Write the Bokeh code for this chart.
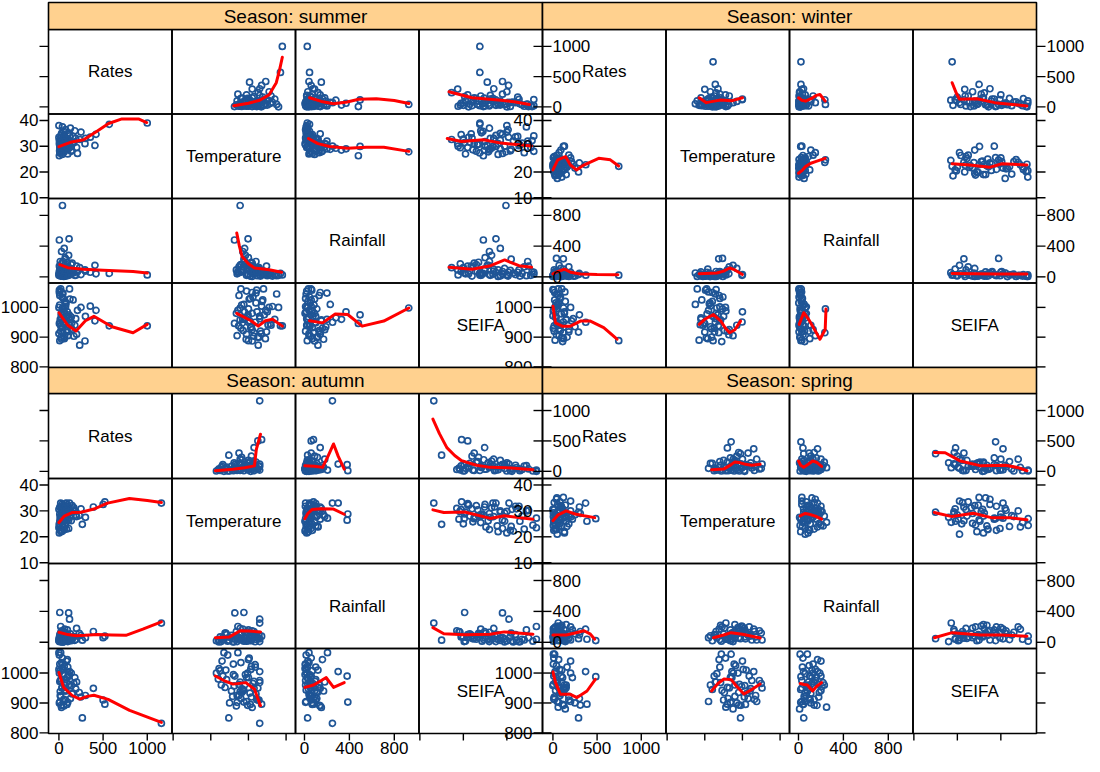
import numpy as np
from bokeh.plotting import figure
from bokeh.models import Range1d
from bokeh.core.properties import value
from bokeh.embed import file_html
from bokeh.resources import INLINE

# ---------------- variables, axis limits and ticks ----------------
var_names = ["Rates", "Temperature", "Rainfall", "SEIFA"]
var_keys = ["rates", "temp", "rain", "seifa"]
rates_limits = (-118, 1280)
temp_limits = (9.7, 42.5)
rain_limits = (-80, 1020)
seifa_limits = (798, 1082)
rates_ticks = [0, 500, 1000]
temp_ticks = [10, 20, 30, 40]
rain_ticks = [0, 400, 800]
seifa_ticks = [800, 900, 1000]

seasons = ["summer", "winter", "autumn", "spring"]

# ---------------- observations per season ----------------
summer_rates = [1000, 570, 40, 5, 115, 60, 30, 235, 295, 355, 420, 408, 250, 300, 180, 150, 120, 20, 10, 50, 80, 0, 30,
                90, 15, 70, 140, 45, 100, 25, 60, 10, 200, 130, 35, 75, 5, 160, 55, 95, 20, 210, 40, 110, 65,
                12, 35, 70, 8, 50, 95, 25, 140, 60, 15, 110, 40, 85, 0, 170, 30, 75, 125, 45, 190, 20, 100, 55, 5, 145]
summer_temp = [39.0, 38.5, 27.8, 26.3, 29.9, 29.0, 28.5, 32.6, 31.0, 33.5, 34.6, 30.3, 35.5, 33.0, 36.0, 31.0, 34.0,
               28.0, 27.5, 30.5, 32.0, 38.0, 35.0, 33.0, 29.0, 30.0, 28.0, 31.5, 27.0, 32.5, 34.5, 30.0, 29.5, 37.0,
               26.8, 28.8, 31.0, 33.8, 35.8, 30.8, 33.2, 27.2, 37.5, 29.2, 32.8,
               29.5, 31.2, 33.6, 28.2, 30.0, 32.3, 34.2, 29.8, 27.8, 31.8, 35.2, 30.6, 28.6, 33.4, 31.4, 29.4, 36.4,
               30.2, 32.0, 33.0, 27.4, 34.8, 31.0, 32.2, 28.4]
summer_rain = [25, 45, 929, 480, 495, 370, 330, 120, 90, 60, 40, 150, 30, 75, 20, 180, 35, 60, 130, 10, 50, 20, 15, 100,
               200, 250, 160, 80, 40, 110, 70, 25, 140, 30, 90, 230, 140, 60, 45, 190, 10, 70, 15, 280, 120,
               20, 45, 30, 85, 110, 15, 60, 35, 150, 95, 25, 70, 130, 40, 55, 170, 10, 90, 200, 20, 50, 140, 5, 65, 100]
summer_seifa = [938, 938, 998, 946, 975, 985, 960, 873, 887, 1004, 990, 955, 1000, 970, 940, 925, 1062, 1062, 1040,
                1030, 1015, 1000, 985, 970, 960, 950, 930, 915, 905, 900, 895, 888, 910, 960, 980, 1010, 1050, 1025,
                945, 935, 920, 990, 1045, 965, 900,
                1055, 1035, 1020, 1008, 995, 985, 975, 968, 958, 950, 942, 932, 922, 912, 903, 893, 1003, 1028, 1048,
                962, 938, 918, 980, 1058, 948]

winter_rates = [745, 40, 118, 118, 372, 290, 250, 300, 200, 150, 180, 100, 60, 20, 80, 50, 10, 130, 30, 90, 5, 70, 160,
                25, 110, 40, 15, 140, 60, 35, 210, 90, 45, 0, 120, 130,
                10, 45, 85, 20, 65, 120, 5, 95, 30, 150, 55, 15, 75, 180, 40, 105, 25, 135, 0, 60, 230, 85, 35]
winter_temp = [22.2, 24.7, 23.7, 29.9, 22.8, 20.0, 21.5, 23.5, 25.5, 19.0, 26.5, 18.0, 20.5, 22.0, 24.0, 17.5, 21.0,
               23.0, 25.0, 19.5, 22.5, 27.5, 21.8, 18.5, 24.5, 20.0, 26.0, 22.0, 23.8, 19.0, 24.0, 28.5, 21.5, 23.0,
               20.8, 30.0,
               20.2, 22.8, 24.8, 19.2, 21.2, 23.2, 25.6, 20.6, 22.4, 24.2, 19.8, 23.6, 21.8, 22.6, 26.4, 20.4, 24.0,
               21.0, 22.0, 18.8, 23.0, 25.2, 21.4]
winter_rain = [22, 240, 235, 20, 22, 30, 10, 45, 60, 15, 130, 5, 25, 10, 35, 50, 15, 70, 40, 5, 20, 150, 12, 30, 55, 8,
               90, 25, 18, 65, 35, 110, 40, 5, 100, 30,
               10, 20, 5, 30, 45, 15, 25, 60, 8, 35, 12, 50, 22, 5, 40, 18, 70, 28, 15, 38, 10, 55, 3]
winter_seifa = [888, 995, 915, 951, 950, 917, 935, 975, 1000, 960, 925, 1062, 1062, 1050, 1030, 1010, 990, 980, 970,
                940, 930, 905, 900, 890, 885, 945, 920, 1020, 1040, 965, 955, 940, 1005, 1060, 895, 985,
                1058, 1045, 1035, 1025, 1012, 998, 988, 978, 968, 958, 948, 938, 928, 918, 908, 898, 1002, 1052, 972,
                942, 962, 922, 1015]

autumn_rates = [1160, 520, 500, 390, 265, 10, 110, 120, 0, 20, 40, 5, 25, 60, 80, 15, 130, 50, 90, 30, 150, 70, 180,
                100, 10, 45, 200, 35, 140, 65, 250, 5, 85, 170, 55, 20, 115, 230, 75, 300, 40, 95,
                5, 30, 60, 15, 45, 90, 10, 120, 35, 75, 160, 20, 55, 100, 25, 140, 0, 70, 190, 40, 110, 15, 85]
autumn_temp = [33.0, 33.5, 32.5, 31.5, 24.8, 28.8, 26.4, 33.0, 23.5, 27.2, 30.2, 21.5, 22.0, 22.8, 25.5, 27.0, 28.0,
               29.5, 30.5, 31.0, 32.0, 29.0, 30.0, 31.8, 26.0, 24.0, 27.8, 32.5, 29.8, 28.5, 30.8, 25.0, 23.0, 31.2,
               26.8, 33.0, 29.2, 28.2, 32.8, 27.5, 22.2, 30.0,
               24.5, 28.0, 30.8, 22.5, 26.0, 29.5, 31.5, 27.5, 23.8, 28.8, 30.4, 25.8, 32.2, 27.0, 29.8, 26.2, 30.6,
               24.2, 28.4, 31.8, 23.2, 27.8, 33.0]
autumn_rain = [249, 80, 60, 140, 28, 386, 380, 300, 40, 205, 60, 20, 35, 10, 90, 50, 110, 15, 70, 150, 40, 130, 25, 100,
               8, 120, 180, 55, 20, 170, 90, 65, 30, 75, 140, 10, 45, 115, 100, 60, 5, 160,
               15, 40, 25, 70, 5, 55, 95, 30, 120, 15, 65, 45, 80, 10, 135, 50, 20, 100, 35, 8, 60, 110, 45]
autumn_seifa = [832, 896, 910, 949, 850, 903, 990, 1005, 1068, 1068, 1050, 1000, 980, 960, 940, 925, 915, 905, 895, 885,
                930, 960, 985, 1020, 1030, 1010, 970, 950, 1000, 940, 920, 900, 1040, 965, 890, 975, 995, 935, 910,
                925, 1015, 1045,
                1060, 1035, 1022, 1008, 995, 985, 972, 962, 952, 943, 933, 922, 912, 902, 892, 957, 1012, 978, 947,
                1028, 990, 938, 968]

spring_rates = [485, 370, 385, 290, 118, 49, 5, 20, 200, 150, 60, 100, 10, 30, 70, 120, 15, 250, 90, 40, 160, 5, 300,
                55, 130, 220, 80, 25, 180, 110, 45, 140, 65, 310, 95, 10, 200, 130,
                10, 40, 75, 20, 110, 55, 5, 150, 30, 90, 180, 15, 65, 125, 45, 200, 0, 80, 140, 25, 100]
spring_temp = [27.0, 33.0, 26.0, 29.5, 35.2, 21.0, 24.4, 27.0, 30.0, 28.0, 25.6, 31.0, 22.5, 23.0, 26.5, 29.0, 30.5,
               28.5, 32.0, 34.5, 24.0, 27.8, 31.5, 29.8, 22.0, 26.8, 33.5, 28.8, 25.0, 30.8, 35.0, 27.5, 23.8, 29.0,
               31.8, 26.2, 33.8, 21.5,
               25.5, 28.2, 30.2, 23.2, 27.2, 32.5, 29.2, 26.0, 24.6, 31.2, 28.0, 33.2, 26.8, 29.6, 22.8, 27.6, 30.6,
               25.2, 32.2, 27.2, 24.2]
spring_rain = [22, 170, 40, 47, 30, 60, 15, 79, 200, 230, 250, 120, 100, 140, 90, 60, 180, 110, 80, 150, 35, 130, 95,
               210, 20, 160, 70, 190, 105, 45, 120, 10, 170, 140, 200, 55, 30, 85,
               40, 95, 150, 60, 120, 30, 175, 80, 200, 110, 50, 140, 20, 165, 90, 130, 70, 185, 100, 45, 220]
spring_seifa = [988, 1005, 896, 850, 950, 905, 1063, 1063, 1040, 960, 886, 1010, 990, 970, 950, 935, 920, 900, 940, 975,
                1020, 1030, 915, 955, 945, 985, 925, 1000, 910, 895, 965, 880, 1045, 893, 990, 915, 905, 960,
                1050, 1025, 1012, 998, 985, 975, 962, 952, 942, 932, 922, 912, 902, 892, 970, 1000, 958, 935, 948,
                1005, 968]

# ---------------- smoothed (loess-like) curves: y on x, as (x, y) pairs ----------------
summer_rates_vs_temp = [(26.1, 20), (30, 60), (33, 110), (35.5, 200), (37.4, 400), (38.3, 620), (39, 820)]
summer_rates_vs_rain = [(45, 150), (150, 90), (260, 50), (380, 80), (483, 125), (640, 135), (800, 105), (930, 55)]
summer_rates_vs_seifa = [(867, 250), (920, 150), (987, 110), (1020, 80), (1052, 40)]
summer_temp_vs_rates = [(0, 29.8), (130, 31.5), (280, 32.5), (431, 35.8), (562, 38.8), (713, 40.6), (900, 40.6), (994, 39.2)]
summer_temp_vs_rain = [(35, 33), (120, 31), (224, 29.9), (385, 29.2), (550, 29.6), (707, 29.6), (930, 28)]
summer_temp_vs_seifa = [(863, 33), (896, 31.8), (946, 32.5), (987, 31.2), (1057, 30.1)]
summer_rain_vs_rates = [(10, 160), (100, 120), (275, 100), (500, 85), (840, 70), (1000, 50)]
summer_rain_vs_temp = [(26.9, 570), (27.6, 400), (28.3, 266), (30, 170), (31.6, 115), (35.5, 92), (38.8, 60)]
summer_rain_vs_seifa = [(867, 125), (920, 100), (960, 140), (995, 220), (1028, 145), (1057, 125)]
summer_seifa_vs_rates = [(0, 982), (100, 940), (194, 921), (300, 955), (396, 970), (600, 935), (839, 915), (1000, 943)]
summer_seifa_vs_temp = [(26.9, 980), (30.7, 955), (32.6, 937), (34.5, 955), (36.4, 960), (39, 937)]
summer_seifa_vs_rain = [(45, 955), (161, 948), (274, 978), (385, 976), (514, 937), (706, 954), (930, 998)]

winter_rates_vs_temp = [(18.5, 150), (20.4, 70), (22.5, 95), (24.2, 115), (27.1, 100), (30, 150)]
winter_rates_vs_rain = [(0, 150), (30, 110), (63, 95), (126, 150), (160, 190), (191, 205), (238, 95)]
winter_rates_vs_seifa = [(888, 400), (898, 220), (905, 125), (945, 135), (986, 70), (1027, 40), (1060, 15)]
winter_temp_vs_rates = [(0, 20.8), (55, 24.7), (142, 26.0), (198, 22.7), (266, 20.8), (349, 22.7), (518, 25.3), (650, 24.7), (744, 22.3)]
winter_temp_vs_rain = [(0, 19.5), (30, 20.5), (63, 22.1), (110, 23.4), (158, 24.1), (238, 25.3)]
winter_temp_vs_seifa = [(888, 23.2), (929, 22.7), (974, 21.8), (1003, 23.2), (1060, 22.7)]
winter_rain_vs_rates = [(0, 40), (60, 70), (131, 100), (200, 60), (311, 37), (500, 30), (735, 28)]
winter_rain_vs_temp = [(18.5, 40), (23.2, 50), (25, 75), (26.6, 115), (28, 90), (30, 30)]
winter_rain_vs_seifa = [(888, 45), (940, 40), (990, 38), (1060, 37)]
winter_seifa_vs_rates = [(0, 1004), (29, 948), (104, 937), (198, 937), (311, 954), (424, 954), (575, 932), (726, 893)]
winter_seifa_vs_temp = [(18.5, 943), (20, 960), (22.3, 976), (24.2, 955), (25.5, 930), (26.6, 915), (28, 925), (29.5, 954)]
winter_seifa_vs_rain = [(6, 943), (47, 982), (90, 960), (126, 937), (191, 893), (238, 926), (245, 995)]

autumn_rates_vs_temp = [(21.2, 10), (25.9, 35), (29, 60), (31.6, 90), (32.1, 360), (33.2, 610)]
autumn_rates_vs_rain = [(3, 90), (90, 85), (161, 65), (210, 250), (259, 450), (300, 250), (354, 35)]
autumn_rates_vs_seifa = [(830, 860), (845, 620), (862, 390), (880, 260), (896, 175), (930, 100), (962, 65), (1000, 60), (1060, 25)]
autumn_temp_vs_rates = [(0, 25.5), (60, 28), (154, 29.4), (250, 29.5), (396, 30.7), (550, 33), (798, 34.8), (1000, 34), (1160, 33.2)]
autumn_temp_vs_rain = [(3, 27), (30, 29), (67, 30.5), (150, 30.8), (259, 30.7), (354, 28.7)]
autumn_temp_vs_seifa = [(830, 30.4), (855, 29.4), (903, 29.6), (962, 27.1), (994, 28.1), (1060, 26.8)]
autumn_rain_vs_rates = [(0, 130), (100, 100), (194, 85), (300, 90), (434, 100), (600, 95), (758, 90), (950, 170), (1160, 265)]
autumn_rain_vs_temp = [(21.2, 60), (25, 70), (27.8, 150), (30, 145), (33.2, 135)]
autumn_rain_vs_seifa = [(830, 190), (855, 110), (903, 97), (962, 105), (994, 135), (1060, 105)]
autumn_seifa_vs_rates = [(0, 1002), (53, 952), (150, 925), (235, 913), (320, 922), (396, 926), (557, 912), (800, 875), (1160, 835)]
autumn_seifa_vs_temp = [(21.2, 990), (23.5, 975), (25.9, 963), (29.3, 968), (31.6, 946), (33.2, 891)]
autumn_seifa_vs_rain = [(3, 952), (81, 960), (150, 975), (194, 985), (259, 952), (354, 968)]

spring_rates_vs_temp = [(21.8, 25), (25.1, 40), (27, 110), (28, 155), (29.5, 140), (30.8, 115), (32.5, 100), (34.7, 115)]
spring_rates_vs_rain = [(0, 170), (20, 100), (47, 65), (90, 120), (126, 170), (160, 150), (206, 80)]
spring_rates_vs_seifa = [(847, 310), (872, 305), (905, 175), (954, 90), (985, 95), (1011, 100), (1040, 60), (1060, 10)]
spring_temp_vs_rates = [(0, 26.2), (60, 28.5), (150, 30.0), (250, 28.8), (352, 28.1), (473, 27.4)]
spring_temp_vs_rain = [(15, 28.1), (60, 29), (95, 28.7), (150, 28), (206, 26.8)]
spring_temp_vs_seifa = [(847, 29.4), (888, 27.8), (937, 29.1), (978, 27.4), (1020, 27.4), (1060, 26.6)]
spring_rain_vs_rates = [(0, 95), (150, 95), (250, 120), (352, 150), (420, 110), (473, 40)]
spring_rain_vs_temp = [(22.3, 60), (25, 95), (27, 125), (30, 105), (34.7, 55)]
spring_rain_vs_seifa = [(847, 60), (888, 125), (954, 95), (1000, 95), (1060, 80)]
spring_seifa_vs_rates = [(0, 1004), (29, 969), (85, 929), (198, 929), (273, 918), (386, 940), (480, 979)]
spring_seifa_vs_temp = [(21.8, 940), (23.5, 965), (25.1, 980), (27, 978), (28.5, 955), (30.4, 930), (32.5, 945), (34.7, 963)]
spring_seifa_vs_rain = [(15, 965), (50, 962), (79, 960), (126, 940), (160, 955), (206, 968)]

# ---------------- assemble lookups from the named lists ----------------
LIMITS = {"rates": rates_limits, "temp": temp_limits, "rain": rain_limits, "seifa": seifa_limits}
TICKS = {"rates": rates_ticks, "temp": temp_ticks, "rain": rain_ticks, "seifa": seifa_ticks}
G = globals()
DATA = {s: {k: G[f"{s}_{k}"] for k in var_keys} for s in seasons}
SMOOTH = {(s, yk, xk): G[f"{s}_{yk}_vs_{xk}"]
          for s in seasons for yk in var_keys for xk in var_keys if yk != xk}

# ---------------- layout (page pixels) ----------------
BLOCK_LEFT = {"summer": 56, "winter": 550, "autumn": 56, "spring": 550}
STRIP_TOP = {"summer": 10, "winter": 10, "autumn": 375, "spring": 375}
PANEL_TOP = {"summer": 37, "winter": 37, "autumn": 401, "spring": 401}
PANEL_H = {"summer": 84.5, "winter": 84.5, "autumn": 85.0, "spring": 85.0}
PANEL_W = 123.5
TICK = 9
BOTTOM_BLOCKS = ["autumn", "spring"]

PT_COLOR = "#1F5596"
LINE_COLOR = "#FF0000"
STRIP_COLOR = "#FFD18F"
FONT = value("Liberation Sans")

p = figure(width=1084, height=756, x_range=Range1d(8, 1092), y_range=Range1d(764, 8),
           output_backend="svg", toolbar_location=None, min_border=0,
           x_axis_type=None, y_axis_type=None,
           background_fill_color="white", border_fill_color="white")
p.outline_line_color = None

ident_x = p.x_range
ident_y = p.y_range

# ---------- points and smooth curves ----------
for s in seasons:
    x0, y0, h = BLOCK_LEFT[s], PANEL_TOP[s], PANEL_H[s]
    for i, yk in enumerate(var_keys):
        for j, xk in enumerate(var_keys):
            if i == j:
                continue
            sub = p.subplot(x_source=Range1d(*LIMITS[xk]), y_source=Range1d(*LIMITS[yk]),
                            x_target=Range1d(x0 + j * PANEL_W, x0 + (j + 1) * PANEL_W),
                            y_target=Range1d(y0 + (i + 1) * h, y0 + i * h))
            sub.scatter(x=DATA[s][xk], y=DATA[s][yk], marker="circle", size=6,
                        fill_color=None, line_color=PT_COLOR, line_width=1.7)
            cx = [c[0] for c in SMOOTH[(s, yk, xk)]]
            cy = [c[1] for c in SMOOTH[(s, yk, xk)]]
            sub.line(x=cx, y=cy, line_color=LINE_COLOR, line_width=3,
                     line_join="round", line_cap="round")

# ---------- panel borders and diagonal names ----------
for s in seasons:
    x0, y0, h = BLOCK_LEFT[s], PANEL_TOP[s], PANEL_H[s]
    L, R, T, B = [], [], [], []
    for i in range(4):
        for j in range(4):
            L.append(x0 + j * PANEL_W)
            R.append(x0 + (j + 1) * PANEL_W)
            T.append(y0 + i * h)
            B.append(y0 + (i + 1) * h)
    p.quad(left=L, right=R, top=T, bottom=B, fill_color=None,
           line_color="black", line_width=1.6)
    p.text(x=[x0 + (k + 0.5) * PANEL_W for k in range(4)],
           y=[y0 + (k + 0.5) * h for k in range(4)],
           text=var_names, text_font=FONT, text_font_size="17px",
           text_align="center", text_baseline="middle", text_color="black")

# ---------- axis ticks and labels drawn at every block edge ----------
for s in seasons:
    x0, y0, h = BLOCK_LEFT[s], PANEL_TOP[s], PANEL_H[s]
    left, right = x0, x0 + 4 * PANEL_W
    bottom = y0 + 4 * h
    for i, k in enumerate(var_keys):
        rs = p.subplot(x_source=ident_x, y_source=Range1d(*LIMITS[k]),
                       x_target=ident_x, y_target=Range1d(y0 + (i + 1) * h, y0 + i * h))
        tk = TICKS[k]
        n = len(tk)
        rs.segment(x0=[left] * n, x1=[left - TICK] * n, y0=tk, y1=tk,
                   line_color="black", line_width=1.4)
        rs.segment(x0=[right] * n, x1=[right + TICK] * n, y0=tk, y1=tk,
                   line_color="black", line_width=1.4)
        labels = [str(t) for t in tk]
        if i in (1, 3):
            rs.text(x=[left - TICK - 1] * n, y=tk, text=labels, text_font=FONT,
                    text_font_size="17px", text_align="right", text_baseline="middle",
                    text_color="black")
        else:
            rs.text(x=[right + TICK + 1] * n, y=tk, text=labels, text_font=FONT,
                    text_font_size="17px", text_align="left", text_baseline="middle",
                    text_color="black")
    if s in BOTTOM_BLOCKS:
        for j, k in enumerate(var_keys):
            cs = p.subplot(x_source=Range1d(*LIMITS[k]), y_source=ident_y,
                           x_target=Range1d(x0 + j * PANEL_W, x0 + (j + 1) * PANEL_W),
                           y_target=ident_y)
            tk = TICKS[k]
            n = len(tk)
            cs.segment(x0=tk, x1=tk, y0=[bottom] * n, y1=[bottom + 7] * n,
                       line_color="black", line_width=1.4)
            if j in (0, 2):
                cs.text(x=tk, y=[bottom + 8] * n, text=[str(t) for t in tk], text_font=FONT,
                        text_font_size="17px", text_align="center", text_baseline="top",
                        text_color="black")

# ---------- strips ----------
for s in seasons:
    x0 = BLOCK_LEFT[s]
    st = STRIP_TOP[s]
    sb = PANEL_TOP[s]
    p.quad(left=[x0], right=[x0 + 4 * PANEL_W], top=[st], bottom=[sb],
           fill_color=STRIP_COLOR, line_color="black", line_width=1.6)
    p.text(x=[x0 + 2 * PANEL_W], y=[(st + sb) / 2], text=[f"Season: {s}"],
           text_font=FONT, text_font_size="19px", text_align="center",
           text_baseline="middle", text_color="black")

with open("out.html", "w") as f:
    f.write(file_html(p, INLINE))
